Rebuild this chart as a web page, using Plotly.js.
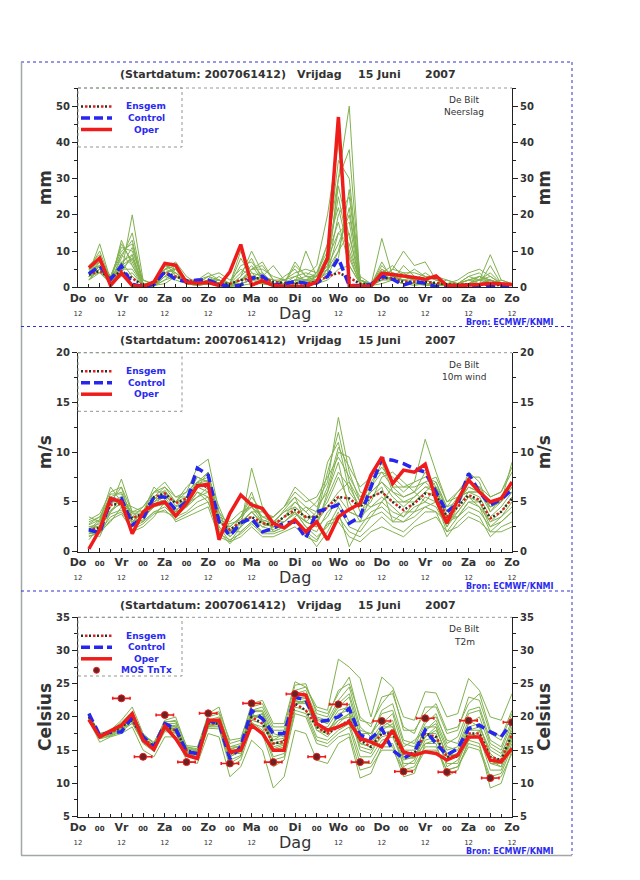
<!DOCTYPE html>
<html><head><meta charset="utf-8">
<script src="https://cdn.plot.ly/plotly-3.0.1.min.js"></script>
<style>body{margin:0;background:#fff}#chart{width:640px;height:880px}</style>
</head><body><div id="chart"></div>
<script>
// ---------- DATA ----------
const hours = [6,12,18,24,30,36,42,48,54,60,66,72,78,84,90,96,102,108,114,120,126,132,138,144,150,156,162,168,174,180,186,192,198,204,210,216,222,228,234,240];
const tickHours = [0,12,24,36,48,60,72,84,96,108,120,132,144,156,168,180,192,204,216,228,240];
const tickNames = ['Do','00','Vr','00','Za','00','Zo','00','Ma','00','Di','00','Wo','00','Do','00','Vr','00','Za','00','Zo'];

// Panel 1: Neerslag (mm)
const precipOper = [5.4,8.0,0.5,3.9,0.5,0.2,1.5,6.6,6.1,1.3, 1.1,1.3,0.5,4.3,11.8,0.6,1.8,0.5,0.3,0.2, 0.2,1.5,8.0,47.0,0.5,0.3,0.3,3.9,3.4,3.1, 2.7,2.2,3.1,0.5,0.5,0.6,0.8,1.1,1.0,0.8];
const precipControl = [3.7,5.9,2.2,5.9,0.8,0.2,0.8,4.3,2.2,1.6, 2.0,2.0,0.8,0.2,0.6,2.5,3.1,0.6,0.9,1.6, 1.1,1.2,3.0,8.0,0.5,0.5,0.8,3.1,2.2,0.6, 1.6,1.1,0.2,0.2,0.3,0.4,0.5,0.3,0.5,0.4];
const precipMean = [3.5,4.5,2.5,4.5,2.5,0.5,1.0,4.0,3.0,2.0, 1.5,1.5,1.0,1.0,2.0,2.5,2.5,1.5,1.2,1.2, 1.0,1.5,3.0,4.0,2.7,1.0,0.8,2.5,2.5,1.5, 1.5,1.5,1.2,0.8,0.8,0.8,0.7,0.6,0.6,0.6];
const precipMembers = [
 [3,5,1,4,20,2,0.5,1,3,1, 0.5,1,0.5,0.3,1,2,1,0.5,0.5,1, 2,4,12,30,50,1,0.5,1,2,1, 0.5,1,0.5,0.3,0.3,0.5,1,2,1,0.5],
 [4,12,2,8,15,1,0.5,2,5,2, 1,2,1,0.5,3,10,4,1,0.5,2, 3,6,20,40,8,1,0.5,3,4,3, 2,2,1,1,0.5,1,2,9,2,1],
 [5,7,1,13,6,0.5,0.3,5,7,3, 1,1,2,1,1,2,3,6,2,1, 10,3,5,20,25,2,0.5,13.5,3,2, 1,1,0.5,0.5,1,3,4,1,0.5,0.5],
 [2,6,3,10,12,1,1,6,4,1, 2,3,4,2,5,3,2,1,1,3, 2,2,8,15,12,1,0.5,2,5,10, 6,7,2,1,2,4,5,3,1,1],
 [6,9,1,7,9,0.5,0.5,3,2,1, 0.5,1,0.5,0.2,0.5,1,1,0.5,3,5, 1,1,3,10,15,1,0.5,4,6,3, 5,3,3,2,1,1,3,1,2,1],
 [3,4,2,5,5,0.5,1,4,5,2, 2,4,2,1,2,5,5,3,2,1, 1,2,4,30,38,2,0.5,2,2,1, 1,0.5,0.5,0.5,0.5,1,1,1,0.5,0.5],
 [4,8,3,11,10,2,1,5,6,1, 1,2,2,1,10,4,1,1,1,6, 3,3,7,25,10,2,1,5,3,2, 3,2,1,0.5,0.5,1,2,2,1,1],
 [3,5,1,3,4,0.5,0.3,2,3,2, 1,1,1,0.5,1,5,6,2,1,1, 1,1,2,5,6,1,0.5,6,3,4, 2,4,2,1,1,2,1,1,1,1],
 [5,6,2,6,8,1,0.5,4,5,1, 1,3,1,1,4,8,2,1,1,2, 2,2,6,12,20,3,1,3,2,1, 1,1,1,2,1,0.5,1,2,1,0.5],
 [2,5,1,9,13,0.5,0.5,6,5,2, 1,1,1,0.5,2,3,4,1,2,4, 5,4,10,35,30,2,1,3,2,2, 1,1,1,0.5,1,2,2,3,1,1],
 [4,6,2,7,3,0.5,0.5,5,4,2, 1,2,1,0.5,1,2,2,1,1,2, 1,3,9,18,6,1,0.5,2,3,2, 2,1,1,0.5,0.5,1,1,1,0.5,0.5],
 [3,7,1,6,11,1,0.5,3,6,1, 2,1,3,1,6,7,3,1,0.5,1, 2,1,5,8,27,2,0.5,4,2,6, 3,2,1,1,1,3,2,1,1,0.5],
 [5,10,2,12,7,0.5,1,7,3,2, 1,2,1,0.5,2,4,3,2,2,3, 4,3,12,22,9,1,1,2,4,3, 2,3,2,1,1,2,3,2,1,1],
 [2,4,1,5,8,0.5,0.3,3,4,1, 0.5,1,1,0.3,3,6,2,0.5,1,7, 3,2,4,15,18,1,0.5,5,3,2, 1,2,1,0.5,1,1,2,4,1,1],
 [4,7,3,9,6,1,0.5,6,6,2, 1,3,2,1,8,3,2,1,1,2, 2,3,6,28,14,2,1,3,5,4, 4,3,2,1,1,2,3,2,1,1],
 [3,6,2,4,9,0.5,0.5,4,5,1, 1,2,2,0.5,2,5,7,2,1,2, 1,2,5,10,22,1,0.5,7,2,3, 2,1,1,1,0.5,1,1,6,1,0.5]
];

// Panel 2: 10m wind (m/s)
const windOper = [0.27,2.2,5.35,5.0,1.8,4.0,4.7,5.0,3.6,4.85, 6.6,6.8,1.2,3.85,5.7,4.7,4.35,2.85,2.4,3.2, 2.0,3.0,1.2,3.5,4.25,4.85,7.7,9.5,6.85,8.2, 8.0,8.8,5.2,2.85,5.2,7.2,6.0,5.0,5.35,7.0];
const windControl = [2.2,1.9,5.2,5.35,2.7,3.35,5.5,5.5,4.2,5.0, 8.4,7.7,3.0,1.6,2.9,3.35,2.0,2.35,2.85,3.0, 1.35,4.0,4.35,4.7,2.85,3.5,6.5,9.35,9.2,8.85, 8.35,8.0,6.0,4.0,4.85,7.85,6.0,4.7,5.25,6.25];
const windMean = [2.2,2.4,4.7,4.85,3.35,3.85,5.5,5.85,4.85,5.35, 6.7,6.5,3.0,2.2,3.0,3.5,2.85,2.7,3.5,4.2, 3.5,3.5,4.5,5.5,5.35,4.5,5.5,6.0,5.0,4.2, 4.85,5.85,5.7,3.5,4.5,5.7,5.2,3.35,4.0,5.35];
const windMembers = [
 [2.0,3.0,5.5,6.0,3.5,3.0,5.0,6.0,5.0,5.5, 7.0,8.0,3.5,2.0,3.0,4.0,3.0,2.5,3.5,5.0, 4.0,5.0,7.0,13.5,8.0,5.0,6.0,7.0,5.5,4.5, 5.5,6.5,6.0,4.0,5.0,6.5,6.0,4.5,5.0,6.5],
 [3.0,3.5,4.5,7.3,4.0,4.5,6.0,6.5,5.5,6.0, 8.5,9.3,4.0,1.5,2.5,3.5,2.5,3.0,4.0,4.5, 3.5,3.0,4.5,6.0,7.0,4.0,5.0,7.5,8.0,7.0, 6.0,5.0,6.5,3.0,4.0,5.5,5.0,3.0,4.0,5.5],
 [1.5,2.0,3.5,4.0,2.5,3.0,4.0,4.5,3.5,4.0, 5.0,5.5,2.0,0.8,2.0,3.0,2.0,2.0,2.5,3.0, 2.0,0.5,2.0,4.0,0.5,2.5,4.0,4.5,3.5,3.0, 4.0,5.5,5.0,2.0,3.5,5.0,4.5,2.0,3.0,4.0],
 [2.5,2.5,5.0,5.0,3.0,4.0,5.5,5.0,4.5,5.0, 6.5,6.0,3.0,2.5,3.5,5.0,3.5,3.0,3.0,4.0, 3.0,4.0,9.0,11.0,6.0,4.5,7.0,8.5,7.0,6.0, 7.0,11.3,8.0,5.0,6.0,7.0,6.5,5.5,6.0,8.0],
 [1.2,2.5,4.0,5.5,3.0,3.5,4.5,6.0,4.0,4.5, 5.5,6.5,2.5,1.0,2.5,8.4,4.5,2.0,2.5,3.5, 4.5,3.5,5.0,7.5,5.0,3.0,3.5,5.0,4.0,3.5, 5.0,6.0,5.5,3.5,4.5,6.0,5.5,3.5,4.5,6.0],
 [2.2,3.2,6.5,5.0,4.5,4.0,6.5,5.5,5.0,6.5, 7.5,7.0,3.5,3.0,4.0,4.5,3.0,3.5,4.5,5.5, 3.0,2.5,6.0,9.0,4.0,3.5,6.5,9.0,6.0,5.5, 6.0,8.0,6.5,4.5,5.0,8.0,7.0,4.0,5.5,7.0],
 [1.8,2.0,3.0,4.5,2.0,2.5,3.5,5.0,3.0,3.5, 4.0,4.5,1.5,1.0,1.5,2.5,1.5,1.5,2.0,2.5, 1.5,1.0,3.0,3.5,2.0,1.5,2.5,3.5,2.5,2.0, 3.0,4.0,4.0,1.5,3.0,4.0,3.5,1.5,2.5,3.0],
 [2.8,3.5,5.5,4.5,3.5,3.5,5.5,6.5,5.0,5.0, 7.0,7.5,4.5,2.0,3.0,4.0,4.0,3.5,4.5,6.5, 5.5,4.5,6.0,10.0,9.5,6.0,5.5,6.0,5.0,5.0, 5.0,6.0,7.0,4.0,5.5,6.0,6.0,5.0,5.5,6.0],
 [2.0,1.5,4.0,5.0,4.0,3.0,4.0,4.0,3.5,4.5, 6.0,5.0,2.0,2.0,2.0,3.0,2.0,2.5,3.0,4.0, 2.5,2.0,4.0,5.0,3.0,3.0,5.5,6.5,3.0,4.0, 4.0,4.5,4.0,3.0,3.5,5.0,5.0,2.5,3.5,4.5],
 [3.5,3.0,5.0,6.5,3.0,4.0,5.0,5.5,4.0,5.5, 6.5,8.0,3.0,2.5,3.5,6.0,3.0,2.5,3.5,4.5, 3.5,3.5,8.0,12.0,7.0,5.0,4.5,5.0,6.5,6.5, 6.5,7.0,6.0,2.5,4.5,7.0,6.5,4.5,5.0,9.0],
 [2.5,2.8,5.0,5.5,3.5,4.5,6.0,6.0,5.0,6.0, 7.0,6.5,3.0,2.0,3.5,5.5,4.0,3.0,4.0,5.0, 4.0,3.0,5.5,8.0,6.5,4.5,6.0,7.0,6.0,5.0, 5.5,6.5,6.5,3.5,5.0,6.5,6.0,4.0,5.0,7.0],
 [1.8,2.2,4.2,4.8,2.8,3.2,4.8,5.2,4.2,4.8, 5.5,6.0,2.5,1.5,2.5,3.5,2.5,2.2,3.0,3.8, 3.0,2.5,3.5,5.5,4.0,3.5,4.5,5.5,4.5,3.5, 4.5,5.0,4.5,2.5,4.0,5.5,4.5,3.0,3.5,5.0],
 [3.2,3.8,6.0,6.5,4.0,4.0,6.0,7.0,5.5,5.5, 7.5,7.0,4.0,2.5,3.5,4.5,3.5,3.5,4.5,6.0, 5.0,5.5,7.5,9.5,7.5,5.5,6.5,8.0,7.5,6.5, 7.0,7.5,7.0,4.5,6.0,7.5,7.5,5.5,6.0,8.5],
 [2.3,2.6,3.8,4.2,3.0,3.5,4.5,4.8,4.0,4.5, 6.0,5.5,2.2,1.8,2.8,4.0,2.8,2.5,3.5,4.0, 2.5,1.5,2.5,4.5,2.5,2.0,3.5,4.0,3.0,3.0, 3.5,4.5,5.0,3.5,3.5,4.5,4.0,2.5,3.0,4.0],
 [2.7,3.2,5.8,5.8,3.8,3.8,5.2,6.2,4.6,5.2, 6.8,7.2,3.2,2.8,3.2,5.0,3.2,2.8,4.2,5.5, 4.5,4.0,6.5,10.5,8.5,6.5,7.5,8.0,6.5,5.5, 6.0,7.0,7.5,5.0,5.5,6.0,6.0,4.5,5.0,6.5],
 [1.6,1.8,3.2,3.8,2.2,2.8,3.8,4.2,3.2,3.8, 4.5,5.0,1.8,1.2,1.8,2.8,1.8,1.8,2.2,3.0, 2.0,1.2,2.8,3.0,1.5,1.0,2.0,2.5,2.0,1.5, 2.5,3.0,3.5,2.0,2.5,3.5,3.0,2.0,2.0,2.5]
];

// Panel 3: T2m (Celsius)
const tempOper = [19.6,17.0,17.9,18.75,20.5,16.5,15.1,18.6,16.75,14.25, 13.75,19.5,19.5,14.75,15.0,18.75,17.5,15.0,15.0,23.5, 23.3,19.0,18.0,18.5,19.25,16.75,16.25,15.5,18.0,14.75, 14.25,14.75,14.5,13.5,14.25,17.0,17.0,13.5,13.25,15.25];
const tempControl = [20.5,17.25,17.75,17.75,20.0,17.0,15.5,19.0,18.25,14.75, 14.5,19.5,19.0,13.75,15.5,21.0,19.75,17.5,17.5,23.0, 22.5,19.25,19.5,20.0,21.25,17.25,16.75,18.25,15.0,13.75, 14.75,18.0,16.0,14.25,15.25,18.25,18.75,17.75,17.0,19.25];
const tempMean = [20.0,17.2,17.6,18.5,19.5,16.8,15.5,18.5,18.0,15.0, 14.5,19.0,19.0,14.5,15.0,20.0,19.0,16.0,16.3,22.0, 21.0,18.5,17.5,18.5,19.5,16.5,15.5,17.5,17.5,14.5, 14.5,17.5,17.0,14.0,14.0,17.5,17.5,14.0,13.5,17.5];
const tempMembers = [
 [20.5,17.5,18.0,19.5,21.5,17.5,16.0,19.5,20.0,15.5, 15.0,20.5,21.5,16.0,16.5,22.0,22.5,19.0,19.0,25.3, 24.5,21.5,21.0,28.7,27.5,25.8,20.0,26.0,24.5,20.0, 19.5,23.8,23.6,20.0,20.5,25.8,24.0,20.0,19.5,23.5],
 [19.5,16.2,17.0,17.5,18.5,15.0,14.0,17.0,17.0,13.5, 13.0,17.5,17.0,11.0,12.5,16.5,15.0,9.3,11.0,18.0, 17.5,13.5,13.0,16.0,17.0,10.8,11.5,15.5,15.5,11.0, 11.5,16.0,16.0,11.0,12.0,16.5,16.0,9.3,10.0,15.0],
 [20.0,17.0,17.5,18.5,20.0,16.5,15.0,18.5,18.5,14.5, 14.0,19.0,19.5,14.0,15.0,20.0,20.5,16.0,16.5,23.0, 23.5,19.0,18.0,20.0,22.0,16.0,15.5,18.0,19.0,14.5, 14.5,18.5,18.5,14.0,14.5,18.5,19.0,14.0,13.5,17.5],
 [20.2,17.3,17.8,19.0,20.5,17.0,15.5,19.0,19.0,15.0, 14.5,19.5,20.0,15.5,15.5,21.0,21.0,17.5,17.0,23.5, 24.0,20.0,19.5,22.5,24.5,18.5,17.0,21.0,22.0,16.5, 16.0,19.5,20.0,16.5,16.0,20.5,21.0,16.0,15.0,19.0],
 [19.8,16.8,17.2,18.0,19.5,16.5,15.2,18.0,18.0,14.2, 13.8,18.5,18.5,13.0,14.0,19.0,18.5,14.0,14.5,21.5, 21.0,17.0,16.5,18.0,19.0,14.0,14.0,16.5,17.0,13.0, 13.0,16.5,17.0,13.0,13.0,17.0,17.0,12.0,12.0,16.0],
 [20.3,17.0,17.6,18.8,20.0,16.8,15.8,18.8,18.5,15.2, 14.8,19.5,19.0,15.0,15.8,20.5,19.5,16.5,17.5,22.5, 22.0,18.5,18.5,21.0,21.5,17.5,17.5,19.5,18.5,15.5, 16.5,18.0,19.0,15.0,15.5,19.5,18.5,15.0,14.0,18.5],
 [19.6,17.2,17.4,18.2,19.0,16.2,15.0,18.2,17.5,14.8, 14.2,18.5,19.0,14.5,14.5,19.5,19.0,15.5,16.0,22.0, 22.5,18.0,17.0,19.0,20.5,15.0,14.5,17.5,18.0,12.5, 13.5,17.5,17.5,12.5,13.5,16.5,18.0,13.0,12.5,17.0],
 [20.0,17.5,17.8,18.8,20.5,17.2,16.0,19.2,19.5,15.5, 15.2,20.0,20.5,15.5,16.0,21.0,21.5,18.0,18.0,24.0, 24.5,21.0,20.5,23.5,26.0,19.5,19.0,22.0,24.0,18.0, 18.0,20.5,22.0,18.0,18.5,22.0,23.5,18.0,17.0,21.0],
 [20.1,16.9,17.6,18.3,19.8,16.6,15.4,18.5,18.2,14.5, 14.5,18.8,19.2,14.2,15.2,20.0,20.0,15.0,15.5,22.8, 23.0,18.5,17.5,20.5,21.0,16.5,16.0,18.5,19.5,14.0, 14.0,17.0,18.0,14.5,14.0,18.0,18.5,14.5,13.0,17.5],
 [19.7,17.1,17.3,18.5,19.8,16.8,15.6,18.4,18.0,14.6, 14.0,19.0,18.8,14.0,14.8,19.5,20.5,16.0,16.0,22.0, 22.0,19.0,18.0,19.5,20.0,15.5,15.0,17.0,17.5,13.5, 14.0,16.0,16.5,13.5,14.0,17.5,17.0,13.5,12.5,16.5],
 [20.0,17.1,17.5,18.6,19.9,16.7,15.4,18.6,18.1,14.9, 14.6,19.2,19.3,14.6,15.2,20.2,19.8,16.5,16.8,22.5, 22.8,19.5,19.0,21.5,23.0,17.0,16.5,19.0,20.5,15.0, 15.0,18.0,19.5,15.5,15.0,19.0,20.0,15.5,14.5,18.0],
 [19.9,16.9,17.4,18.2,19.3,16.3,15.1,18.1,17.8,14.4, 13.9,18.7,18.6,13.5,14.2,19.2,18.0,13.5,14.0,21.0, 20.5,16.5,16.0,17.5,18.5,13.0,13.0,16.0,16.0,12.0, 12.5,15.5,15.5,12.0,12.5,16.0,15.5,11.0,11.5,15.5],
 [20.4,17.4,17.9,19.2,20.8,17.3,16.2,19.3,19.3,15.7, 15.5,20.2,20.8,16.5,16.8,21.5,22.0,18.5,18.5,24.8, 25.0,20.5,20.0,24.0,25.0,20.0,18.5,23.0,23.5,18.5, 17.5,21.5,21.5,17.5,18.0,23.0,22.5,17.5,16.5,20.5],
 [20.2,17.0,17.7,18.4,19.6,16.4,15.3,18.3,18.3,14.7, 14.3,19.3,19.7,14.8,15.3,20.3,20.0,15.2,15.8,22.3, 22.3,18.0,17.5,19.5,20.5,16.0,15.5,18.5,18.5,13.8, 13.8,17.0,18.5,14.0,14.5,18.0,18.0,13.0,13.0,17.0],
 [19.8,17.3,17.5,18.7,20.2,17.0,15.7,18.7,18.7,15.3, 14.9,19.7,19.5,15.2,15.6,20.8,20.8,17.0,17.3,23.2, 23.2,19.8,19.0,22.0,23.5,18.0,17.5,20.5,21.0,16.0, 15.5,19.0,20.5,16.0,17.0,21.0,21.5,16.5,15.5,19.5],
 [19.6,16.7,17.1,17.8,19.1,16.0,14.8,17.8,17.6,14.1, 13.6,18.3,18.2,12.5,13.5,18.5,17.5,12.5,13.5,20.5, 20.0,16.0,15.5,17.0,17.5,12.0,12.5,15.0,15.0,12.0, 12.0,15.0,15.0,12.0,12.5,15.5,15.0,10.5,11.0,14.5]
];
const mosHours = [24,36,48,60,72,84,96,108,120,132,144,156,168,180,192,204,216,228,240];
const mosTemp = [22.8,14.0,20.3,13.2,20.55,13.0,22.05,13.2,23.45,14.0,21.9,13.2,19.4,11.8,19.8,11.7,19.45,10.8,19.2];

const panelTitleParts = ['(Startdatum: 2007061412)','Vrijdag','15 Juni','2007'];
const stationLabels = [['De Bilt','Neerslag'],['De Bilt','10m wind'],['De Bilt','T2m']];
const yTitles = ['mm','m/s','Celsius'];
const legendNames = ['Ensgem','Control','Oper','MOS TnTx'];

// ---------- STYLE / LAYOUT ----------
const W=640,H=880;
const X = p => p/W, Y = p => 1 - p/H;
const GREEN='#82b150', BLUE='#2626f0', RED='#f01c1c', DARK='#333333', TXTBLUE='#2a2af0';
const MEANDARK='#2e2e22', MEANRED='#e02020';
const FONT='DejaVu Sans';
const panels = [
  {top:88, bottom:287.3, range:[0,55], dtick:10, minor:5, tick0:0, members:precipMembers, oper:precipOper, ctrl:precipControl, mean:precipMean, legBottom:147, titleY:75},
  {top:352.7, bottom:551.7, range:[0,20], dtick:5, minor:2.5, tick0:0, members:windMembers, oper:windOper, ctrl:windControl, mean:windMean, legBottom:411.3, titleY:340},
  {top:617.3, bottom:816.6, range:[5,35], dtick:5, minor:2.5, tick0:5, members:tempMembers, oper:tempOper, ctrl:tempControl, mean:tempMean, legBottom:676, titleY:605}
];
const plotL=78, plotR=512;

const tickText = tickNames.map(n => n==='00' ? '<span style="font-size:7px">00</span>' :
   (n==='Di' ? n : n+'<br><span style="font-size:7px;font-weight:normal">12</span>'));

const traces=[], shapes=[], annotations=[];
const layout = {width:W, height:H, margin:{l:0,r:0,t:0,b:0}, paper_bgcolor:'#fff', plot_bgcolor:'rgba(0,0,0,0)',
  showlegend:false, font:{family:FONT, color:DARK}, shapes, annotations};

const dashDark = '2px,6px', dashRed = '0px,4px,2.5px,1.5px';

panels.forEach((p,k)=>{
  const xn = k===0?'x':'x'+(k+1), yn = k===0?'y':'y'+(k+1), yr='y'+(k+4);
  const xkey = k===0?'xaxis':'xaxis'+(k+1), ykey = k===0?'yaxis':'yaxis'+(k+1), yrkey='yaxis'+(k+4);
  const dom=[Y(p.bottom), Y(p.top)];
  layout[xkey] = {domain:[X(plotL),X(plotR)], range:[0,240], anchor:yn, tickmode:'array', tickvals:tickHours, ticktext:tickText,
    ticks:'inside', ticklen:4, tickcolor:'#222', showline:true, linecolor:'#222', linewidth:1, showgrid:false, zeroline:false,
    minor:{tick0:0, dtick:6, ticks:'inside', ticklen:3, tickcolor:'#222', showgrid:false},
    tickangle:0, tickfont:{family:FONT, size:11, color:DARK, weight:'bold'}, fixedrange:true};
  const ycommon = {domain:dom, range:p.range, tick0:p.tick0, dtick:p.dtick, ticks:'outside', ticklen:5, tickcolor:'#222',
    showline:true, linecolor:'#222', linewidth:1, showgrid:false, zeroline:false, anchor:xn,
    minor:{tick0:p.tick0, dtick:p.minor, ticks:'outside', ticklen:3, tickcolor:'#222', showgrid:false},
    tickfont:{family:FONT, size:10, color:DARK, weight:'bold'}, fixedrange:true};
  layout[ykey] = Object.assign({}, ycommon, {side:'left',
    title:{text:yTitles[k], font:{family:FONT, size:17, color:DARK, weight:'bold'}, standoff:0}});
  layout[yrkey] = Object.assign({}, ycommon, {side:'right', overlaying:yn,
    title:{text:yTitles[k], font:{family:FONT, size:17, color:DARK, weight:'bold'}, standoff:3}});

  p.members.forEach(m => traces.push({x:hours, y:m, xaxis:xn, yaxis:yn, type:'scatter', mode:'lines',
    line:{color:GREEN, width:1}, hoverinfo:'skip'}));
  traces.push({x:hours, y:p.mean, xaxis:xn, yaxis:yn, type:'scatter', mode:'lines', line:{color:MEANDARK, width:2.5, dash:dashDark}, hoverinfo:'skip'});
  traces.push({x:hours, y:p.mean, xaxis:xn, yaxis:yn, type:'scatter', mode:'lines', line:{color:MEANRED, width:2.5, dash:dashRed}, hoverinfo:'skip'});
  traces.push({x:hours, y:p.ctrl, xaxis:xn, yaxis:yn, type:'scatter', mode:'lines', line:{color:BLUE, width:3.5, dash:'9px,5px'}, hoverinfo:'skip'});
  traces.push({x:hours, y:p.oper, xaxis:xn, yaxis:yn, type:'scatter', mode:'lines', line:{color:RED, width:3.5}, hoverinfo:'skip'});
  traces.push({x:[null], y:[null], xaxis:xn, yaxis:yr, type:'scatter', mode:'lines', hoverinfo:'skip'});
  if(k===2){
    traces.push({x:mosHours, y:mosTemp, xaxis:xn, yaxis:yn, type:'scatter', mode:'markers',
      marker:{color:'#6a2222', size:7, line:{color:RED, width:1}},
      error_x:{type:'constant', value:4.8, color:RED, thickness:1.6, width:1.5}, hoverinfo:'skip'});
  }

  // plot top border (dotted gray)
  shapes.push({type:'line', xref:'paper', yref:'paper', x0:X(plotL), x1:X(plotR), y0:Y(p.top), y1:Y(p.top), line:{color:'#999', width:1, dash:'dot'}});
  // legend box
  shapes.push({type:'rect', xref:'paper', yref:'paper', x0:X(plotL), x1:X(182), y0:Y(p.legBottom), y1:Y(p.top), line:{color:'#8a9a8a', width:1, dash:'dot'}, fillcolor:'rgba(0,0,0,0)'});
  const ly = [p.top+18.5, p.top+30, p.top+41.5];
  shapes.push({type:'line', xref:'paper', yref:'paper', x0:X(81), x1:X(112), y0:Y(ly[0]), y1:Y(ly[0]), line:{color:MEANDARK, width:2.5, dash:dashDark}});
  shapes.push({type:'line', xref:'paper', yref:'paper', x0:X(81), x1:X(112), y0:Y(ly[0]), y1:Y(ly[0]), line:{color:MEANRED, width:2.5, dash:dashRed}});
  shapes.push({type:'line', xref:'paper', yref:'paper', x0:X(81), x1:X(112), y0:Y(ly[1]), y1:Y(ly[1]), line:{color:BLUE, width:3.5, dash:'9px,4px'}});
  shapes.push({type:'line', xref:'paper', yref:'paper', x0:X(81), x1:X(112), y0:Y(ly[2]), y1:Y(ly[2]), line:{color:RED, width:3.5}});
  for(let j=0;j<3;j++) annotations.push({xref:'paper', yref:'paper', x:X(146), y:Y(ly[j]), text:legendNames[j], showarrow:false,
    xanchor:'center', yanchor:'middle', font:{family:FONT, size:9, color:TXTBLUE, weight:'bold'}});
  if(k===2){
    const my = p.top+53;
    shapes.push({type:'circle', xref:'paper', yref:'paper', x0:X(93.5), x1:X(99.5), y0:Y(my+3), y1:Y(my-3), fillcolor:'#6a2222', line:{color:RED, width:1}});
    annotations.push({xref:'paper', yref:'paper', x:X(146), y:Y(my), text:legendNames[3], showarrow:false,
      xanchor:'center', yanchor:'middle', font:{family:FONT, size:9, color:TXTBLUE, weight:'bold'}});
  }
  // panel title
  const tx=[202.5, 319, 379, 440];
  panelTitleParts.forEach((t,j)=>annotations.push({xref:'paper', yref:'paper', x:X(tx[j]), y:Y(p.titleY), text:t, showarrow:false,
    xanchor:'center', yanchor:'middle', font:{family:FONT, size:11, color:DARK, weight:'bold'}}));
  // station label
  annotations.push({xref:'paper', yref:'paper', x:X(464), y:Y(p.top+12), text:stationLabels[k][0], showarrow:false, xanchor:'center', yanchor:'middle', font:{family:FONT, size:9, color:DARK}});
  annotations.push({xref:'paper', yref:'paper', x:X(464), y:Y(p.top+24.5), text:stationLabels[k][1], showarrow:false, xanchor:'center', yanchor:'middle', font:{family:FONT, size:9, color:DARK}});
  // x title
  annotations.push({xref:xn, yref:'paper', x:120, y:Y(p.bottom+26), text:'Dag', showarrow:false, xanchor:'center', yanchor:'middle', font:{family:FONT, size:16, color:DARK}});
  // source
  annotations.push({xref:'paper', yref:'paper', x:X(510), y:Y(p.bottom+35), text:'Bron: ECMWF/KNMI', showarrow:false, xanchor:'center', yanchor:'middle', font:{family:FONT, size:8, color:TXTBLUE, weight:'bold'}});
});

// outer frame and separators
shapes.push({type:'line', xref:'paper', yref:'paper', x0:X(21), x1:X(572), y0:Y(62), y1:Y(62), line:{color:'#3030d0', width:1, dash:'dot'}});
shapes.push({type:'line', xref:'paper', yref:'paper', x0:X(572), x1:X(572), y0:Y(62), y1:Y(855), line:{color:'#3030d0', width:1, dash:'dot'}});
shapes.push({type:'line', xref:'paper', yref:'paper', x0:X(21.5), x1:X(21.5), y0:Y(62), y1:Y(855.5), line:{color:'#a0a8a8', width:1.5}});
shapes.push({type:'line', xref:'paper', yref:'paper', x0:X(21), x1:X(572), y0:Y(855.5), y1:Y(855.5), line:{color:'#a0a8a8', width:1.5}});
shapes.push({type:'line', xref:'paper', yref:'paper', x0:X(21), x1:X(572), y0:Y(326.5), y1:Y(326.5), line:{color:'#3030d0', width:1, dash:'dot'}});
shapes.push({type:'line', xref:'paper', yref:'paper', x0:X(21), x1:X(572), y0:Y(591), y1:Y(591), line:{color:'#3030d0', width:1, dash:'dot'}});

Plotly.newPlot('chart', traces, layout, {staticPlot:true, displayModeBar:false});
</script>
</body></html>
